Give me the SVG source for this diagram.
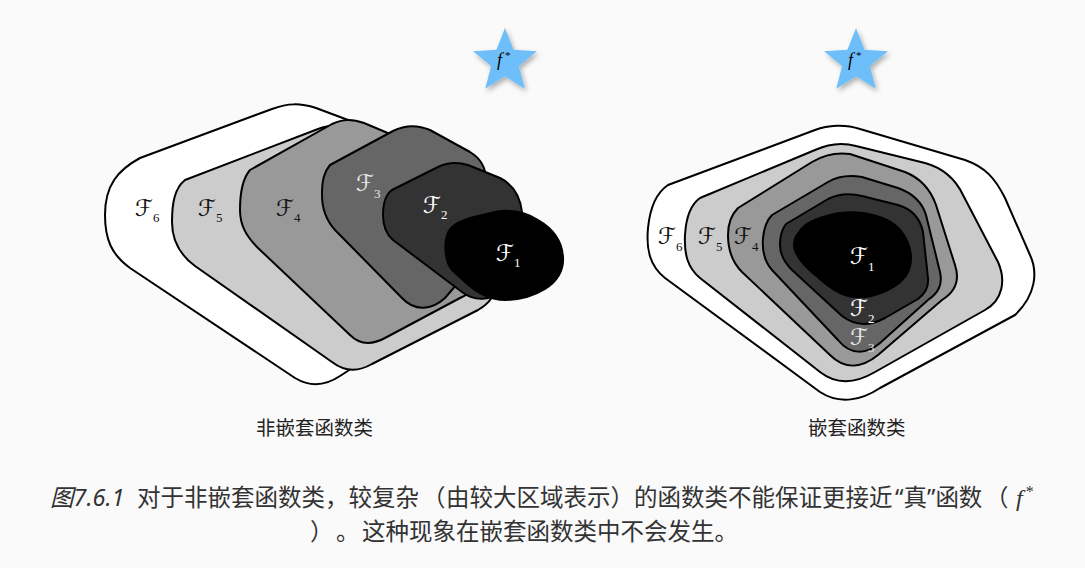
<svg xmlns="http://www.w3.org/2000/svg" width="1085" height="568" viewBox="0 0 1085 568">
<style>
.o{stroke:#000;stroke-width:2;stroke-linejoin:round}
.c6{fill:#fff}.c5{fill:#ccc}.c4{fill:#999}.c3{fill:#666}.c2{fill:#333}.c1{fill:#000}
.lab{font-family:"DejaVu Serif","DejaVu Sans",serif;font-size:23px}
.sub{font-family:"Liberation Serif",serif;font-size:13px}
.dk{fill:#111}.lt{fill:#e6e6e6}.wh{fill:#fff}
.star{fill:#6ebefa}
.fs{font-family:"Liberation Serif",serif;font-style:italic;font-size:18px;fill:#000}
.fsup{font-family:"Liberation Serif",serif;font-style:normal;font-size:11px;fill:#000}
.cap{font-family:"Noto Sans","Noto Sans CJK SC",sans-serif;font-size:23.5px;fill:#333}
.q{font-family:"Noto Sans",sans-serif}
.tl{font-family:"Noto Sans CJK SC",sans-serif;font-size:19.5px;fill:#222}
</style>
<defs>
<filter id="sh" x="-30%" y="-30%" width="160%" height="170%">
<feDropShadow dx="2" dy="3" stdDeviation="2.5" flood-color="#000" flood-opacity="0.3"/>
</filter>
<path id="starp" d="M0,-33.6 L8.6,-11.8 L31.96,-10.38 L13.9,4.5 L19.75,27.18 L0,14.6 L-19.75,27.18 L-13.9,4.5 L-31.96,-10.38 L-8.6,-11.8 Z"/>
</defs>
<rect x="0" y="0" width="1085" height="568" fill="#fafafa"/>

<g id="star-left">
<use href="#starp" class="star" transform="translate(505,61.6)" filter="url(#sh)"/>
<text class="fs" x="497" y="66">f<tspan class="fsup" dx="3" dy="-7">*</tspan></text>
</g>
<g id="star-right">
<use href="#starp" class="star" transform="translate(856,61.6)" filter="url(#sh)"/>
<text class="fs" x="848" y="66">f<tspan class="fsup" dx="3" dy="-7">*</tspan></text>
</g>

<g id="nonnested">
<g id="nn-F6">
<path class="o c6" d="M140,158 L272,109 C288,103 300,103 316,108 L348,120 L385,145 L425,300 L380,350 L340,376 C325,386 310,387 295,378 L130,268 C112,255 105,240 105,215 C105,185 118,170 140,158 Z"/>
<text class="lab dk" x="135" y="216">ℱ<tspan class="sub" dy="6">6</tspan></text>
</g>
<g id="nn-F5">
<path class="o c5" d="M185,180 L318,129 C332,124 345,124 358,129 L470,175 C488,183 496,198 496,215 L496,280 C496,295 490,303 478,310 L372,364 C358,372 345,372 332,362 L195,266 C180,255 172,240 172,222 C172,202 175,188 185,180 Z"/>
<text class="lab dk" x="198" y="216">ℱ<tspan class="sub" dy="6">5</tspan></text>
</g>
<g id="nn-F4">
<path class="o c4" d="M250,170 L332,124 C343,119 352,119 364,123 L440,155 L478,200 L478,270 C478,285 472,293 460,298 L385,338 C372,345 360,345 350,335 L258,248 C246,236 240,225 240,210 C240,192 243,178 250,170 Z"/>
<text class="lab dk" x="276" y="216">ℱ<tspan class="sub" dy="6">4</tspan></text>
</g>
<g id="nn-F3">
<path class="o c3" d="M330,165 L393,131 C405,125 418,125 430,130 L470,152 C480,158 486,168 486,180 L486,250 L445,298 C432,310 415,312 402,298 L335,230 C326,220 322,210 322,195 C322,180 324,172 330,165 Z"/>
<text class="lab lt" x="356" y="191">ℱ<tspan class="sub" dy="7">3</tspan></text>
</g>
<g id="nn-F2">
<path class="o c2" d="M392,190 L438,167 C448,162 458,162 468,165 L500,178 C512,184 520,195 522,212 L524,250 L500,292 C490,300 475,302 462,292 L393,240 C385,233 383,225 383,215 C383,203 385,195 392,190 Z"/>
<text class="lab wh" x="423" y="213">ℱ<tspan class="sub" dy="6">2</tspan></text>
</g>
<g id="nn-F1">
<path class="o c1" d="M447,235 C450,226 458,222 470,218 L495,212 C510,209 525,212 538,220 C552,228 562,240 563,257 C564,272 556,282 545,289 C532,297 520,300 505,300 C490,300 478,294 465,282 L452,270 C445,262 444,245 447,235 Z"/>
<text class="lab wh" x="496" y="261">ℱ<tspan class="sub" dy="6">1</tspan></text>
</g>
</g>

<g id="nested">
<g id="n-F6">
<path class="o c6" d="M668,185 L815,130 C828,125 845,124 860,129 L965,160 C985,167 995,178 1005,198 L1030,255 C1038,272 1036,295 1015,315 L880,388 C862,400 840,405 820,392 L665,278 C650,266 646,250 648,228 C650,208 656,193 668,185 Z"/>
<text class="lab dk" x="658" y="244">ℱ<tspan class="sub" dy="7">6</tspan></text>
</g>
<g id="n-F5">
<path class="o c5" d="M700,198 L815,150 C828,144 842,142 856,146 L925,163 C943,168 955,178 963,195 L998,262 C1006,280 1003,300 985,310 L875,372 C858,382 838,386 820,372 L700,278 C688,268 684,255 685,235 C686,218 690,205 700,198 Z"/>
<text class="lab dk" x="698" y="244">ℱ<tspan class="sub" dy="7">5</tspan></text>
</g>
<g id="n-F4">
<path class="o c4" d="M738,208 L812,162 C822,156 835,152 850,154 L905,172 C920,178 930,188 936,205 L955,265 C960,280 955,292 942,300 L878,355 C862,368 845,370 830,355 L742,272 C732,262 728,250 728,235 C728,222 732,214 738,208 Z"/>
<text class="lab dk" x="734" y="244">ℱ<tspan class="sub" dy="7">4</tspan></text>
</g>
<g id="n-F3">
<path class="o c3" d="M772,215 L828,182 C838,176 850,175 862,177 L898,188 C912,193 922,202 926,215 L940,272 C943,285 938,293 928,300 L880,343 C866,355 850,355 838,340 L772,270 C764,261 762,250 763,238 C764,228 767,220 772,215 Z"/>
</g>
<g id="n-F2">
<path class="o c2" d="M786,224 L828,199 C838,194 850,193 862,196 L898,205 C912,209 920,218 923,232 L928,278 C929,288 925,294 918,299 L885,318 C870,326 855,326 842,316 L792,270 C784,262 780,255 780,245 C780,236 782,229 786,224 Z"/>
</g>
<g id="n-F1">
<path class="c1" d="M798,232 C804,222 815,218 830,214 C845,210 865,210 885,218 C900,224 910,238 912,255 C913,270 906,282 890,290 C875,298 860,300 848,297 C838,294 828,288 815,276 C800,264 792,252 793,243 C794,238 795,235 798,232 Z"/>
<text class="lab wh" x="850" y="264">ℱ<tspan class="sub" dy="7">1</tspan></text>
</g>
<text class="lab wh" x="850" y="316">ℱ<tspan class="sub" dy="7">2</tspan></text>
<text class="lab lt" x="850" y="345">ℱ<tspan class="sub" dy="7">3</tspan></text>
</g>

<g id="connectors"/>

<g id="titles">
<text class="tl" x="256" y="434.5">非嵌套函数类</text>
<text class="tl" x="808" y="434.5">嵌套函数类</text>
</g>

<g id="caption">
<text class="cap" y="506"><tspan x="50" font-style="italic">图7.6.1</tspan><tspan x="137">对于非嵌套函数类，较复杂</tspan><tspan x="422">（</tspan><tspan x="446">由较大区域表示）的函数类不能保证更接近</tspan><tspan x="895" class="q">“</tspan>真<tspan class="q">”</tspan>函数<tspan x="985">（</tspan></text>
<text x="1016" y="506" font-family="Liberation Serif,serif" font-style="italic" font-size="24" fill="#333">f<tspan font-style="normal" font-size="16" dx="3" dy="-9">*</tspan></text>
<text class="cap" y="540"><tspan x="310">）</tspan><tspan x="336">。</tspan><tspan x="362">这种现象在嵌套函数类中不会发生。</tspan></text>
</g>
</svg>
